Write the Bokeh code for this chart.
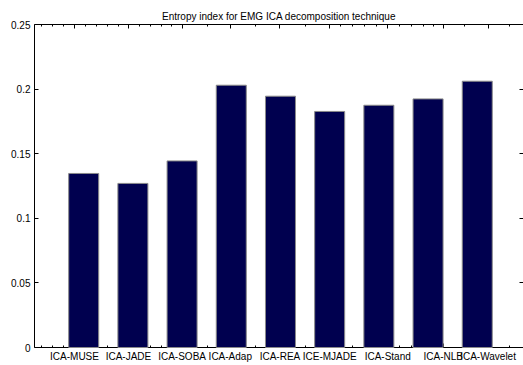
from bokeh.plotting import figure
from bokeh.models import LinearAxis, FixedTicker, Range1d, Title
from bokeh.embed import file_html
from bokeh.resources import INLINE

# Entropy index per ICA decomposition technique
techniques = ["ICA-MUSE", "ICA-JADE", "ICA-SOBA", "ICA-Adap", "ICA-REA",
              "ICE-MJADE", "ICA-Stand", "ICA-NLB", "ICA-Wavelet"]
entropy = [0.1347, 0.127, 0.1444, 0.2030, 0.1945, 0.1827, 0.1875, 0.1924, 0.2061]
bar_index = list(range(1, len(techniques) + 1))

# x-axis tick layout: labelled ticks and the unlabelled minor ticks
label_ticks = [0.813, 1.91, 3.00, 3.98, 4.99, 6.00, 7.18, 8.31, 9.22]
minor_x_ticks = [0.136, 0.36, 0.59, 1.04, 1.27, 1.49, 1.71, 2.13, 2.36, 2.58,
                 2.79, 3.51, 4.49, 5.51, 6.23, 6.47, 6.71, 6.95, 7.42, 7.66,
                 7.90, 8.11, 8.74, 9.66]
y_ticks = [0, 0.05, 0.1, 0.15, 0.2, 0.25]
y_tick_labels = ["0", "0.05", "0.1", "0.15", "0.2", "0.25"]

FONT = "Liberation Sans"

p = figure(width=523, height=365,
           x_range=Range1d(0, 9.94), y_range=Range1d(0, 0.25),
           output_backend="svg", toolbar_location=None,
           min_border_left=34, min_border_right=0,
           min_border_top=24, min_border_bottom=18,
           background_fill_color="white", border_fill_color="white")
p.outline_line_color = None
p.grid.visible = False

p.title = Title(text="Entropy index for EMG ICA decomposition technique",
                align="center", text_font=FONT, text_font_size="10px",
                text_font_style="normal", text_color="black", standoff=6)

p.vbar(x=bar_index, top=entropy, width=0.61, bottom=0,
       fill_color="#00004f", line_color="#8a8a8a", line_width=1,
       level="overlay")

x_ticker = FixedTicker(ticks=label_ticks, minor_ticks=minor_x_ticks)
y_ticker = FixedTicker(ticks=y_ticks, minor_ticks=[])


def style_axis(ax):
    ax.axis_line_color = "black"
    ax.axis_line_width = 1
    ax.major_tick_line_color = "black"
    ax.minor_tick_line_color = "black"
    ax.major_tick_in = 4
    ax.major_tick_out = 0
    ax.minor_tick_in = 2
    ax.minor_tick_out = 0
    ax.major_label_text_font = FONT
    ax.major_label_text_font_size = "10px"
    ax.major_label_text_color = "black"


def tick_only(ax):
    # mirrored edge: ticks without any labels
    ax.major_label_text_color = None
    ax.major_label_text_font_size = "1px"
    ax.major_label_standoff = 0


xb = p.xaxis[0]
xb.ticker = x_ticker
xb.major_label_overrides = {t: name for t, name in zip(label_ticks, techniques)}
xb.major_label_standoff = 3
style_axis(xb)

yl = p.yaxis[0]
yl.ticker = y_ticker
yl.major_label_overrides = {t: s for t, s in zip(y_ticks, y_tick_labels)}
yl.major_label_standoff = 4
style_axis(yl)
yl.minor_tick_line_color = None

# mirrored ticks on the top and right edges
xt = LinearAxis(ticker=x_ticker)
style_axis(xt)
tick_only(xt)
p.add_layout(xt, "above")

yr = LinearAxis(ticker=y_ticker)
style_axis(yr)
yr.axis_line_color = None
yr.minor_tick_line_color = None
tick_only(yr)
p.add_layout(yr, "right")

open("out.html", "w").write(file_html(p, INLINE))
